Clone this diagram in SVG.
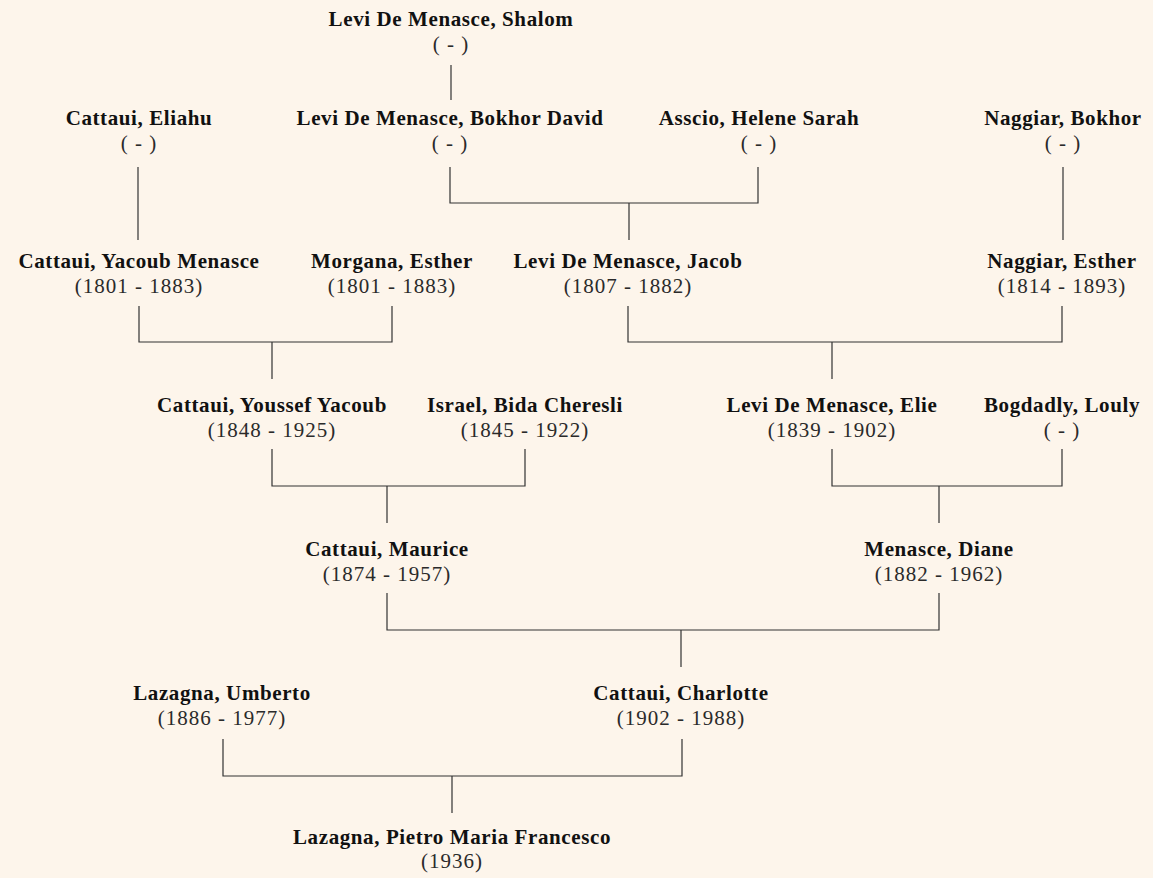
<svg xmlns="http://www.w3.org/2000/svg" width="1153" height="878" viewBox="0 0 1153 878">
<style>
.n{font-family:"Liberation Serif","Times New Roman",serif;font-weight:bold;font-size:21px;letter-spacing:0.6px;fill:#111;text-anchor:middle}
.d{font-family:"Liberation Serif","Times New Roman",serif;font-size:21px;letter-spacing:1px;fill:#2a2a2a;text-anchor:middle}
.c{fill:none;stroke:#333;stroke-width:1.2}
</style>
<rect width="1153" height="878" fill="#FDF5EB"/>
<g id="connectors" class="c">
<path d="M451 65V100"/>
<path d="M138 167V240"/>
<path d="M450 167V203H758V167M629 203V240"/>
<path d="M1063 167V240"/>
<path d="M139 306V342H392V306M272 342V379"/>
<path d="M628 306V342H1062V306M832 342V379"/>
<path d="M272 449V486H525V449M387 486V523"/>
<path d="M832 449V486H1062V449M939 486V523"/>
<path d="M387 593V630H939V593M681 630V667"/>
<path d="M223 739V776H682V739M452 776V813"/>
</g>
<g id="shalom"><text class="n" x="451" y="26">Levi De Menasce, Shalom</text><text class="d" x="451" y="51">( - )</text></g>
<g id="eliahu"><text class="n" x="139" y="125">Cattaui, Eliahu</text><text class="d" x="139" y="150">( - )</text></g>
<g id="bokhor-david"><text class="n" x="450" y="125">Levi De Menasce, Bokhor David</text><text class="d" x="450" y="150">( - )</text></g>
<g id="helene"><text class="n" x="759" y="125">Asscio, Helene Sarah</text><text class="d" x="759" y="150">( - )</text></g>
<g id="naggiar-bokhor"><text class="n" x="1063" y="125">Naggiar, Bokhor</text><text class="d" x="1063" y="150">( - )</text></g>
<g id="yacoub"><text class="n" x="139" y="268">Cattaui, Yacoub Menasce</text><text class="d" x="139" y="293">(1801 - 1883)</text></g>
<g id="morgana"><text class="n" x="392" y="268">Morgana, Esther</text><text class="d" x="392" y="293">(1801 - 1883)</text></g>
<g id="jacob"><text class="n" x="628" y="268">Levi De Menasce, Jacob</text><text class="d" x="628" y="293">(1807 - 1882)</text></g>
<g id="naggiar-esther"><text class="n" x="1062" y="268">Naggiar, Esther</text><text class="d" x="1062" y="293">(1814 - 1893)</text></g>
<g id="youssef"><text class="n" x="272" y="412">Cattaui, Youssef Yacoub</text><text class="d" x="272" y="437">(1848 - 1925)</text></g>
<g id="israel"><text class="n" x="525" y="412">Israel, Bida Cheresli</text><text class="d" x="525" y="437">(1845 - 1922)</text></g>
<g id="elie"><text class="n" x="832" y="412">Levi De Menasce, Elie</text><text class="d" x="832" y="437">(1839 - 1902)</text></g>
<g id="louly"><text class="n" x="1062" y="412">Bogdadly, Louly</text><text class="d" x="1062" y="437">( - )</text></g>
<g id="maurice"><text class="n" x="387" y="556">Cattaui, Maurice</text><text class="d" x="387" y="581">(1874 - 1957)</text></g>
<g id="diane"><text class="n" x="939" y="556">Menasce, Diane</text><text class="d" x="939" y="581">(1882 - 1962)</text></g>
<g id="umberto"><text class="n" x="222" y="700">Lazagna, Umberto</text><text class="d" x="222" y="725">(1886 - 1977)</text></g>
<g id="charlotte"><text class="n" x="681" y="700">Cattaui, Charlotte</text><text class="d" x="681" y="725">(1902 - 1988)</text></g>
<g id="pietro"><text class="n" x="452" y="844">Lazagna, Pietro Maria Francesco</text><text class="d" x="452" y="868">(1936)</text></g>
</svg>
